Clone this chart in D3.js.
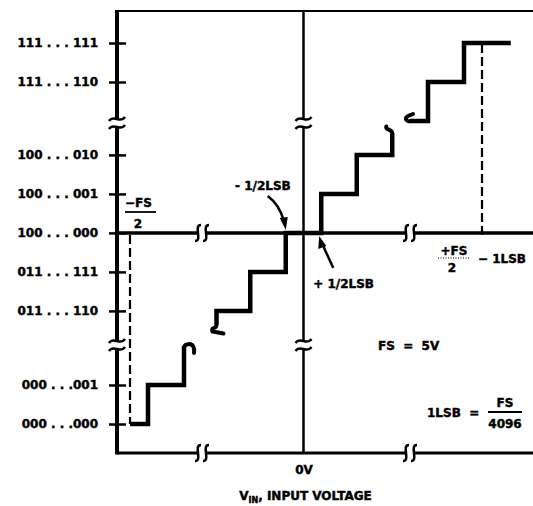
<!DOCTYPE html>
<html>
<head>
<meta charset="utf-8">
<script src="https://d3js.org/d3.v7.min.js"></script>
<style>
  body { margin: 0; background: #fff; }
  text { font-family: "DejaVu Sans", sans-serif; font-weight: bold; fill: #000; stroke: #000; stroke-width: 0.45px; }
</style>
</head>
<body>
<script>
// output codes, relative to 100...000, and how they are printed
var codes = [-2048, -2047, -2, -1, 0, 1, 2, 2046, 2047];
var codeLabels = ["000 . . .000", "000 . . .001", "011 . . . 110", "011 . . . 111",
                  "100 . . . 000", "100 . . . 001", "100 . . . 010", "111 . . . 110", "111 . . . 111"];

// staircase pieces: [input voltage in LSB, output code]
var stairLow  = [[-2048, -2048], [-2047.5, -2047], [-2046.5, -2046]];
var stairMid  = [[-2.45, -2.35], [-2.45, -2], [-1.5, -1], [-0.5, 0], [0.5, 1], [1.5, 2], [2.5, 2.55]];
var stairHigh = [[2044.7, 2045], [2045.5, 2046], [2046.5, 2047], [2047.8, 2047]];

var w = 533, h = 506;
var frameLeft = 117, frameTop = 11, frameBottom = 453, frameRight = 533;
var breakYs = [123, 345];

var svg = d3.select("body").append("svg")
    .attr("width", w)
    .attr("height", h);

// broken axes: each axis is three linear pieces
var xs = d3.scaleLinear()
    .domain([-2049, -2046, -3, 3, 2045, 2048])
    .range([94, 202, 197, 410, 410, 518]);
var ys = d3.scaleLinear()
    .domain([-2049, -2046, -3, 3, 2045, 2048])
    .range([463, 346, 349.9, 115.9, 121, 4]);

var x0 = xs(0), y0 = ys(0);
var xBreaks = [xs(-2046), xs(2045)];

// frame lines
svg.append("path").attr("d", "M" + frameLeft + "," + frameTop + "H" + frameRight)
    .attr("stroke", "#000").attr("stroke-width", 2).attr("fill", "none");
svg.append("path").attr("d", "M" + frameLeft + "," + frameBottom + "H" + frameRight)
    .attr("stroke", "#000").attr("stroke-width", 3).attr("fill", "none");
svg.append("path").attr("d", "M" + frameLeft + "," + y0 + "H" + frameRight)
    .attr("stroke", "#000").attr("stroke-width", 3.5).attr("fill", "none");
svg.append("path").attr("d", "M" + x0 + "," + frameTop + "V" + frameBottom)
    .attr("stroke", "#000").attr("stroke-width", 2.5).attr("fill", "none");
svg.append("path").attr("d", "M" + frameLeft + "," + (frameTop - 1) + "V" + (frameBottom + 1.5))
    .attr("stroke", "#000").attr("stroke-width", 4).attr("fill", "none");

// gaps + break marks on vertical lines
[frameLeft, x0].forEach(function(x) {
    breakYs.forEach(function(y) {
        svg.append("rect").attr("x", x - 4).attr("y", y - 4).attr("width", 8).attr("height", 8)
            .attr("fill", "#fff");
        [-4, 4].forEach(function(d) {
            svg.append("path")
                .attr("d", "M" + (x - 8) + "," + (y + d + 2) + "C" + (x - 3) + "," + (y + d - 5) + " " +
                      (x + 3) + "," + (y + d + 5) + " " + (x + 8) + "," + (y + d - 2))
                .attr("fill", "none").attr("stroke", "#000").attr("stroke-width", 2.5);
        });
    });
});

// gaps + break marks on horizontal lines
[y0, frameBottom].forEach(function(y) {
    xBreaks.forEach(function(x) {
        svg.append("rect").attr("x", x - 4).attr("y", y - 3).attr("width", 8).attr("height", 6)
            .attr("fill", "#fff");
        [-4, 4].forEach(function(d) {
            var cx = x + d;
            svg.append("path")
                .attr("d", "M" + (cx + 3) + "," + (y - 8) + "C" + (cx - 5) + "," + (y - 8) + " " +
                      (cx + 5) + "," + (y + 8) + " " + (cx - 3) + "," + (y + 8))
                .attr("fill", "none").attr("stroke", "#000").attr("stroke-width", 2.5);
        });
    });
});

// left axis: ticks and code labels
var yAxis = d3.axisLeft(ys)
    .tickValues(codes)
    .tickSize(0)
    .tickPadding(19)
    .tickFormat(function(d, i) { return codeLabels[i]; });
var gy = svg.append("g")
    .attr("transform", "translate(" + frameLeft + ",0)")
    .call(yAxis);
gy.select(".domain").remove();
gy.selectAll(".tick line")
    .attr("x1", -8).attr("x2", 9)
    .attr("stroke", "#000").attr("stroke-width", 2.5);
gy.selectAll(".tick text")
    .attr("font-family", "DejaVu Sans").attr("font-size", 12).attr("font-weight", "bold");

// bottom axis: only 0V
var xAxis = d3.axisBottom(xs)
    .tickValues([0])
    .tickSize(0)
    .tickPadding(12)
    .tickFormat(function() { return "0V"; });
var gx = svg.append("g")
    .attr("transform", "translate(0," + frameBottom + ")")
    .call(xAxis);
gx.select(".domain").remove();
gx.selectAll(".tick text")
    .attr("font-family", "DejaVu Sans").attr("font-size", 12).attr("font-weight", "bold");

// staircase
var stairLine = d3.line()
    .x(function(d) { return xs(d[0]); })
    .y(function(d) { return ys(d[1]); })
    .curve(d3.curveStepAfter);

[stairLow, stairMid, stairHigh].forEach(function(piece) {
    svg.append("path")
        .datum(piece)
        .attr("d", stairLine)
        .attr("fill", "none")
        .attr("stroke", "#000")
        .attr("stroke-width", 4.5)
        .attr("stroke-linejoin", "miter");
});

// little hooks where the staircase is broken
function hook(d) {
    svg.append("path").attr("d", d)
        .attr("fill", "none").attr("stroke", "#000").attr("stroke-width", 4)
        .attr("stroke-linecap", "round");
}
var lx = xs(stairLow[2][0]), ly = ys(stairLow[2][1]);
hook("M" + lx + "," + (ly + 2) + "Q" + lx + "," + (ly - 2) + " " + (lx + 6) + "," + (ly - 2) +
     "Q" + (lx + 11) + "," + (ly - 1) + " " + (lx + 10) + "," + (ly + 7));
var mx = xs(stairMid[0][0]), my = ys(stairMid[0][1]);
hook("M" + mx + "," + my + "C" + mx + "," + (my + 5) + " " + (mx - 6) + "," + (my + 2) + " " +
     (mx - 4) + "," + (my + 7) + "L" + (mx + 7) + "," + (my + 9));
var ex = xs(stairMid[6][0]), ey = ys(stairMid[6][1]);
hook("M" + ex + "," + ey + "C" + ex + "," + (ey - 5) + " " + (ex - 7) + "," + (ey - 3) + " " +
     (ex - 6) + "," + (ey - 7));
var hx = xs(stairHigh[0][0]), hy = ys(stairHigh[0][1]);
hook("M" + (hx + 1) + "," + hy + "C" + (hx - 4) + "," + (hy + 1) + " " + (hx - 6) + "," + (hy - 3) + " " +
     (hx - 2) + "," + (hy - 5) + "L" + (hx + 3) + "," + (hy - 7));

// dashed limits at -FS/2 and +FS/2 - 1LSB
[[-2048, -2048], [2047, 2047]].forEach(function(d) {
    svg.append("line")
        .attr("x1", xs(d[0])).attr("x2", xs(d[0]))
        .attr("y1", y0 + 2).attr("y2", ys(d[1]))
        .attr("stroke", "#000").attr("stroke-width", 2.2)
        .attr("stroke-dasharray", "9,4");
});

// arrows for +-1/2 LSB
var ax1 = xs(-0.5), ax2 = xs(0.5);
svg.append("path")
    .attr("d", "M" + (ax1 - 18) + "," + (y0 - 37) + "Q" + (ax1 - 6) + "," + (y0 - 28) + " " + (ax1 - 2) + "," + (y0 - 12))
    .attr("fill", "none").attr("stroke", "#000").attr("stroke-width", 2.5);
svg.append("path")
    .attr("d", "M" + ax1 + "," + (y0 - 3) + "L" + (ax1 - 6) + "," + (y0 - 15) + "L" + (ax1 + 2) + "," + (y0 - 16) + "Z")
    .attr("fill", "#000");
svg.append("path")
    .attr("d", "M" + (ax2 + 12) + "," + (y0 + 35) + "Q" + (ax2 + 5) + "," + (y0 + 20) + " " + (ax2 + 2) + "," + (y0 + 13))
    .attr("fill", "none").attr("stroke", "#000").attr("stroke-width", 2.5);
svg.append("path")
    .attr("d", "M" + (ax2 - 2) + "," + (y0 + 3) + "L" + (ax2 - 3) + "," + (y0 + 16) + "L" + (ax2 + 5) + "," + (y0 + 13) + "Z")
    .attr("fill", "#000");

// text annotations
function label(x, y, s, anchor, size) {
    return svg.append("text")
        .attr("x", x).attr("y", y)
        .attr("text-anchor", anchor || "start")
        .attr("font-size", size || 12)
        .style("white-space", "pre")
        .text(s);
}
function bar(x1, x2, y, dotted) {
    svg.append("line").attr("x1", x1).attr("x2", x2).attr("y1", y).attr("y2", y)
        .attr("stroke", "#000").attr("stroke-width", dotted ? 1 : 1.8)
        .attr("stroke-dasharray", dotted ? "1,1.5" : null);
}

var fx = xs(-2048);
label(fx - 5, 207, "\u2212FS");
bar(fx - 5, fx + 26, 212);
label(fx + 8, 228, "2", "middle");

label(ax1 + 5, y0 - 43, "- 1/2LSB", "end");
label(ax2 - 8, y0 + 55, "+ 1/2LSB");

var rx = xs(2047);
label(rx - 28, 255, "+FS", "middle");
bar(rx - 44, rx - 12, 258, true);
label(rx - 30, 272, "2", "middle");
label(rx - 4, 263, "\u2212 1LSB");

label(378, 350, "FS  =  5V");
label(427, 417, "1LSB  =");
label(505, 407, "FS", "middle");
bar(488, 522, 412);
label(505, 428, "4096", "middle");

var title = svg.append("text")
    .attr("x", x0 + 2).attr("y", 500)
    .attr("text-anchor", "middle")
    .attr("font-size", 12);
title.append("tspan").text("V");
title.append("tspan").attr("font-size", 8).attr("dy", 3).text("IN");
title.append("tspan").attr("dy", -3).text(", INPUT VOLTAGE");
</script>
</body>
</html>
